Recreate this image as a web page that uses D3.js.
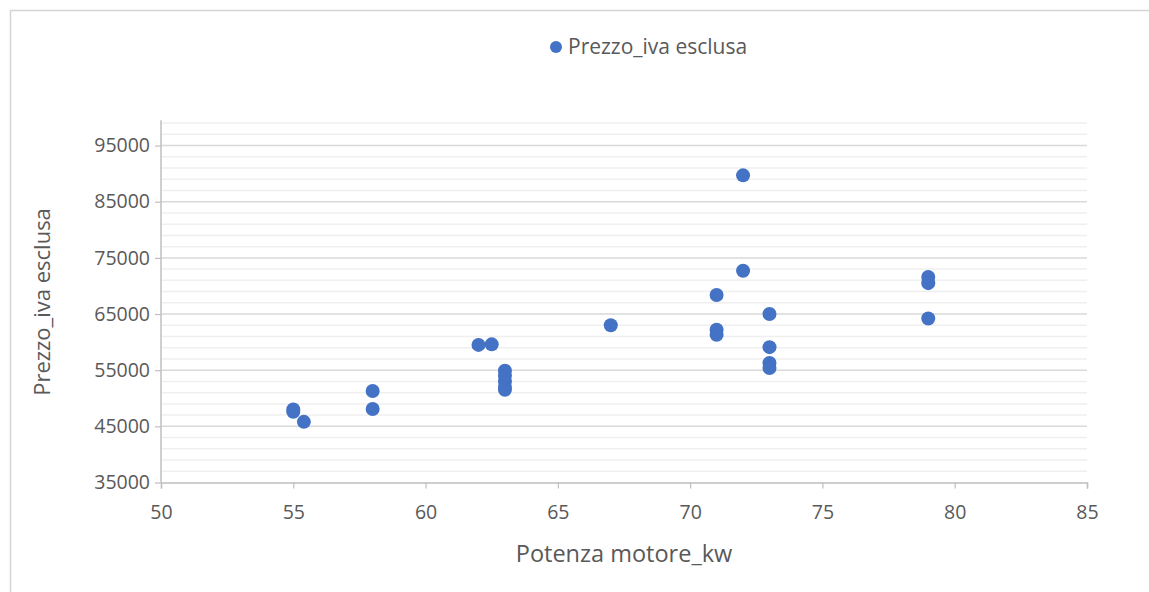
<!DOCTYPE html>
<html><head><meta charset="utf-8">
<script src="https://cdn.jsdelivr.net/npm/d3@7"></script>
<style>
html,body{margin:0;padding:0;background:#fff;}
svg{display:block;}
text{font-family:"Open Sans", "Noto Sans", sans-serif;}
</style></head>
<body>
<script>
const potenza = [55, 55, 55.4, 58, 58, 62, 62.5, 63, 63, 63, 63, 63, 67, 71, 71, 71, 72, 72, 73, 73, 73, 73, 79, 79, 79];
const prezzo  = [48000, 47600, 45800, 51300, 48100, 59500, 59600, 54900, 54000, 53000, 52000, 51500, 63000, 68400, 62200, 61300, 89700, 72700, 65000, 59100, 56300, 55400, 71600, 70500, 64200];
const xTicks = [50, 55, 60, 65, 70, 75, 80, 85];
const yTicks = [35000, 45000, 55000, 65000, 75000, 85000, 95000];
const seriesName = "Prezzo_iva esclusa";
const xTitle = "Potenza motore_kw";
const yTitle = "Prezzo_iva esclusa";

const W = 1149, H = 592;
const svg = d3.select("body").append("svg").attr("width", W).attr("height", H);
const FONT = "'Open Sans', 'Noto Sans', sans-serif";

// chart frame
svg.append("path").attr("d", `M10.5,${H} L10.5,10.5 L${W},10.5`).attr("fill","none").attr("stroke","#d4d4d4").attr("stroke-width",1.5);

const x = d3.scaleLinear().domain([50, 85]).range([161, 1087]);
const y = d3.scaleLinear().domain([35000, 100000]).range([482.5, 117.5]);

// minor gridlines
const minor = d3.range(37000, 100000, 2000).filter(v => (v - 35000) % 10000 !== 0);
svg.append("g").selectAll("line").data(minor).join("line")
  .attr("x1", x(50)).attr("x2", x(85)).attr("y1", d => y(d)).attr("y2", d => y(d))
  .attr("stroke", "#efefef").attr("stroke-width", 1.5);
// major gridlines
svg.append("g").selectAll("line").data(yTicks.slice(1)).join("line")
  .attr("x1", x(50)).attr("x2", x(85)).attr("y1", d => y(d)).attr("y2", d => y(d))
  .attr("stroke", "#d9d9d9").attr("stroke-width", 1.5);

// axes
const xAxis = svg.append("g").attr("transform", `translate(0,${y(35000)})`)
  .call(d3.axisBottom(x).tickValues(xTicks).tickSize(6).tickPadding(17).tickFormat(d3.format("d")));
const yAxis = svg.append("g").attr("transform", `translate(${x(50)},0)`)
  .call(d3.axisLeft(y).tickValues(yTicks).tickSize(6).tickPadding(5).tickFormat(d3.format("d")));
yAxis.select(".domain").attr("d", `M0,${y(35000)}V${y(99500)}`);
[xAxis, yAxis].forEach(g => {
  g.select(".domain").attr("stroke", "#bfbfbf").attr("stroke-width", 1.5);
  g.selectAll(".tick line").attr("stroke", "#bfbfbf").attr("stroke-width", 1.2);
  g.selectAll(".tick text").attr("fill", "#595959").style("font-size", "19.5px")
   .style("font-family", FONT);
});

// points
svg.append("g").selectAll("circle").data(potenza.map((p, i) => [p, prezzo[i]])).join("circle")
  .attr("cx", d => x(d[0])).attr("cy", d => y(d[1])).attr("r", 7)
  .attr("fill", "#4472C4");

// titles
svg.append("text").attr("x", 624).attr("y", 562).attr("text-anchor", "middle")
  .attr("fill", "#595959").style("font-size", "23.5px").text(xTitle);
svg.append("text").attr("transform", `translate(50,302) rotate(-90)`).attr("text-anchor", "middle")
  .attr("fill", "#595959").style("font-size", "22px").text(yTitle);

// legend
const leg = svg.append("g");
leg.append("circle").attr("cx", 556).attr("cy", 47).attr("r", 6).attr("fill", "#4472C4");
leg.append("text").attr("x", 568).attr("y", 54).attr("fill", "#595959").style("font-size", "21px").text(seriesName);
</script>
</body></html>
